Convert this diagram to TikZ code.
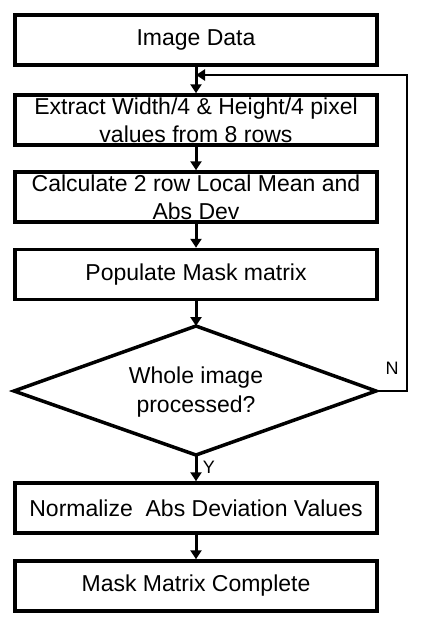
\documentclass[tikz,border=0pt]{standalone}
\usepackage{fontspec}
\setmainfont{Liberation Sans}
\usetikzlibrary{arrows.meta,shapes.geometric}
\begin{document}
\begin{tikzpicture}[x=1pt,y=-1pt,
  stepbox/.style={draw,line width=3.5pt,minimum width=362pt,minimum height=50pt,inner sep=0pt,align=center,font=\fontsize{23}{28}\selectfont},
  conn/.style={line width=3pt,-{Triangle[length=9pt,width=11pt]}},
  loopconn/.style={line width=2.5pt,-{Triangle[length=9pt,width=11pt]}},
  lbl/.style={font=\fontsize{18}{20}\selectfont,inner sep=0pt}]
\useasboundingbox (0,0) rectangle (427,629);
\node[stepbox] (b1) at (196,40) {Image Data};
\node[stepbox] (b2) at (196,120) {Extract Width/4 \& Height/4 pixel\\values from 8 rows};
\node[stepbox] (b3) at (196,197) {Calculate 2 row Local Mean and\\Abs Dev};
\node[stepbox] (b4) at (196,274.5) {Populate Mask matrix};
\draw[line width=3.5pt,line join=miter] (14,391) -- (196,326) -- (376,391) -- (196,455) -- cycle;
\node[inner sep=0pt,align=center,font=\fontsize{23}{29}\selectfont] (d) at (196,392) {Whole image\\processed?};
\coordinate (dtop) at (196,326);
\coordinate (dbot) at (196,455);
\coordinate (dright) at (376,391);
\node[stepbox] (b5) at (196,508) {Normalize\ \ Abs Deviation Values};
\node[stepbox] (b6) at (196,586) {Mask Matrix Complete};
\draw[conn] (b1.south) -- (b2.north);
\draw[conn] (b2.south) -- (b3.north);
\draw[conn] (b3.south) -- (b4.north);
\draw[conn] (b4.south) -- (dtop);
\draw[conn] (dbot) -- (b5.north);
\draw[conn] (b5.south) -- (b6.north);
\coordinate (lp1) at (407,391);
\coordinate (lp2) at (407,75);
\coordinate (lp3) at (196,75);
\draw[loopconn] (dright) -- (lp1) -- (lp2) -- (lp3);
\node[lbl] (n) at (392,368) {N};
\node[lbl] (y) at (209,467) {Y};
\end{tikzpicture}
\end{document}
